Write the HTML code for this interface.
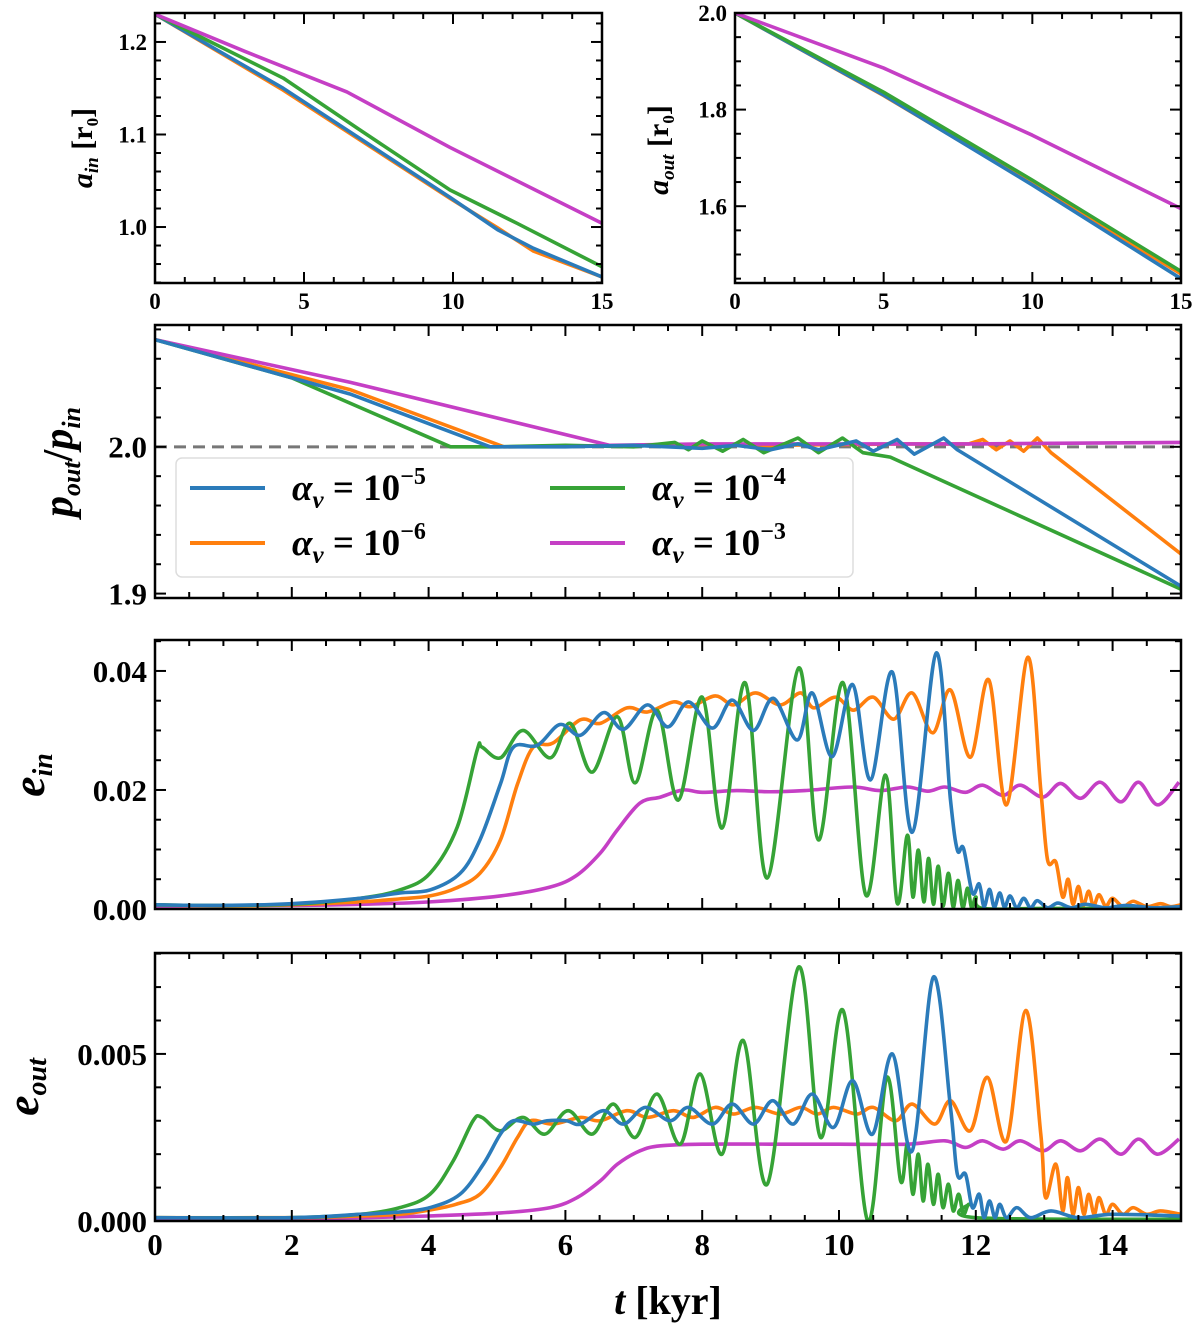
<!DOCTYPE html>
<html><head><meta charset="utf-8">
<style>
html,body{margin:0;padding:0;background:#fff;}
svg{display:block;}
text{font-family:"Liberation Serif",serif;font-weight:bold;fill:#000;}
</style></head>
<body>
<svg id="chart" width="1200" height="1330" viewBox="0 0 1200 1330" xmlns="http://www.w3.org/2000/svg"></svg>
<script>
// ---- data (time in kyr, value) ----
const colors = {blue:"#2b7bba", orange:"#ff7f0e", green:"#36a336", magenta:"#c53fc5"};
const legendLabels = ["10","10","10","10"];
const legendExps = ["-5","-6","-4","-3"];

const ainMagenta=[0,1.23, 3,1.19, 6.44,1.146, 9.9,1.086, 15,1.004];
const ainGreen=[0,1.23, 4.3,1.161, 6.78,1.107, 9.9,1.04, 12.15,1.004, 15,0.957];
const ainBlue=[0,1.23, 4.3,1.15, 9.9,1.032, 11.5,0.997, 12.7,0.977, 15,0.946];
const ainOrange=[0,1.23, 4.3,1.148, 9.9,1.031, 11.5,0.999, 12.7,0.974, 15,0.946];

const aoutMagenta=[0,2.0, 5,1.886, 10,1.747, 15,1.595];
const aoutGreen=[0,2.0, 5,1.836, 10,1.654, 15,1.465];
const aoutBlue=[0,2.0, 5,1.83, 10,1.644, 15,1.45];
const aoutOrange=[0,2.0, 5,1.829, 10,1.646, 15,1.46];

const pGreen=[0,2.073, 2,2.047, 4.32,2.0, 5,2.0, 6,2.001, 7,2.0, 7.6,2.003, 7.8,1.998, 8.0,2.004, 8.3,1.997, 8.6,2.005, 8.9,1.996, 9.4,2.006, 9.7,1.996, 10.05,2.006, 10.35,1.996, 10.75,1.993, 15,1.903];
const pBlue=[0,2.073, 2.85,2.036, 4.9,2.0, 6,2.0, 7,2.001, 8,1.999, 8.5,2.001, 9,1.998, 9.4,2.002, 9.7,1.998, 10.25,2.004, 10.5,1.997, 10.85,2.005, 11.1,1.995, 11.53,2.006, 11.73,1.998, 15,1.905];
const pOrange=[0,2.073, 2.85,2.039, 5.1,2.0, 7,2.001, 9,2.001, 11,2.002, 11.9,2.002, 12.1,2.005, 12.3,1.998, 12.5,2.004, 12.7,1.997, 12.9,2.006, 13.1,1.996, 15,1.927];
const pMagenta=[0,2.073, 2.85,2.044, 6.65,2.001, 8,2.002, 10,2.002, 12,2.002, 15,2.003];

const einGreen=[0,0.0007, 1,0.0006, 2,0.0008, 3,0.0018, 3.58,0.0032, 4.02,0.006, 4.42,0.0138, 4.71,0.0267, 4.78,0.0272, 5.05,0.0254, 5.38,0.030, 5.78,0.0254, 6.07,0.0312, 6.39,0.023, 6.76,0.0323, 7.02,0.0212, 7.34,0.0334, 7.65,0.0183, 8.0,0.0356, 8.29,0.0136, 8.63,0.038, 8.95,0.0052, 9.41,0.0405, 9.70,0.0116, 10.06,0.038, 10.39,0.0024, 10.68,0.0225, 10.85,0.001, 11.0,0.0124, 11.08,0.002, 11.16,0.0099, 11.24,0.0012, 11.31,0.0085, 11.38,0.0008, 11.45,0.0072, 11.52,0.0005, 11.6,0.006, 11.67,0.0003, 11.74,0.0048, 11.81,0.0002, 11.88,0.0035, 11.94,0.0001, 12.0,0.002, 12.1,0.0001, 13,0.0001, 15,0.0001];
const einBlue=[0,0.0007, 1,0.0006, 2,0.0009, 3,0.0018, 3.58,0.0027, 4.02,0.0032, 4.46,0.006, 4.75,0.0116, 5.05,0.021, 5.24,0.0272, 5.59,0.0275, 5.92,0.031, 6.22,0.0292, 6.56,0.033, 6.85,0.0302, 7.2,0.0343, 7.5,0.0306, 7.8,0.0348, 8.15,0.0304, 8.44,0.0351, 8.75,0.030, 9.04,0.0354, 9.39,0.0284, 9.61,0.0363, 9.90,0.0256, 10.2,0.0377, 10.46,0.0217, 10.78,0.0398, 11.07,0.0129, 11.42,0.043, 11.63,0.0183, 11.73,0.0099, 11.82,0.0102, 11.95,0.0027, 12.05,0.0042, 12.12,0.0004, 12.2,0.0033, 12.27,0.0003, 12.35,0.0027, 12.42,0.0003, 12.5,0.0022, 12.6,0.0002, 12.7,0.0018, 12.8,0.0002, 12.9,0.0014, 13.05,0.0002, 13.2,0.001, 13.4,0.0002, 13.6,0.0008, 13.9,0.0002, 14.2,0.0006, 14.6,0.0002, 15,0.0004];
const einOrange=[0,0.0007, 1,0.0005, 2,0.0007, 3,0.0012, 3.58,0.0017, 4.02,0.0022, 4.4,0.0035, 4.75,0.006, 5.05,0.0116, 5.3,0.021, 5.53,0.0272, 5.82,0.0279, 6.22,0.0318, 6.51,0.0312, 6.9,0.0338, 7.2,0.0331, 7.58,0.0348, 7.83,0.034, 8.19,0.0358, 8.46,0.0343, 8.78,0.0363, 9.14,0.0343, 9.44,0.0363, 9.63,0.0338, 9.95,0.0356, 10.21,0.0334, 10.5,0.0356, 10.8,0.0319, 11.07,0.0363, 11.37,0.0296, 11.63,0.0368, 11.92,0.0255, 12.19,0.0385, 12.45,0.0175, 12.76,0.0423, 12.95,0.02, 13.05,0.0082, 13.17,0.0079, 13.27,0.002, 13.35,0.005, 13.42,0.0008, 13.5,0.0038, 13.57,0.0006, 13.65,0.003, 13.72,0.0005, 13.8,0.0024, 13.9,0.0005, 14,0.0018, 14.15,0.0004, 14.3,0.0013, 14.5,0.0004, 14.7,0.0009, 14.85,0.0004, 15,0.0007];
const einMagenta=[0,0.0005, 2,0.0006, 3,0.0008, 4.02,0.0012, 5.05,0.0022, 5.78,0.0037, 6.17,0.0057, 6.51,0.0094, 6.76,0.0133, 7.09,0.0178, 7.39,0.0188, 7.72,0.02, 8.0,0.0196, 8.5,0.0199, 9,0.0197, 9.5,0.0199, 10.2,0.0205, 10.6,0.0199, 11.0,0.0205, 11.3,0.0198, 11.55,0.0205, 11.85,0.0196, 12.1,0.0208, 12.4,0.0191, 12.65,0.0208, 12.98,0.0188, 13.24,0.0211, 13.53,0.0186, 13.82,0.0213, 14.12,0.018, 14.38,0.0213, 14.66,0.0175, 14.97,0.0213];

const eoutGreen=[0,0.0001, 2,0.0001, 3,0.0002, 3.58,0.0004, 4.02,0.0008, 4.36,0.0018, 4.65,0.003, 4.78,0.0031, 5.05,0.0027, 5.38,0.0031, 5.7,0.0026, 6.04,0.0033, 6.39,0.0026, 6.7,0.0035, 7.02,0.0025, 7.34,0.0038, 7.68,0.0023, 7.97,0.0044, 8.29,0.002, 8.6,0.0054, 8.95,0.0011, 9.41,0.0076, 9.73,0.0025, 10.06,0.0063, 10.42,0.0, 10.7,0.0043, 10.9,0.0012, 11.0,0.0023, 11.08,0.0008, 11.16,0.002, 11.23,0.0006, 11.3,0.0017, 11.38,0.0005, 11.45,0.0014, 11.52,0.0004, 11.6,0.0011, 11.67,0.0003, 11.75,0.0008, 11.82,0.0002, 11.9,0.0005, 12.0,0.0001, 15,0.00005];
const eoutBlue=[0,0.0001, 2,0.0001, 3,0.0002, 3.58,0.00027, 4.02,0.0004, 4.46,0.0008, 4.8,0.0017, 5.05,0.0026, 5.24,0.003, 5.53,0.0029, 5.73,0.003, 6.01,0.003, 6.22,0.0029, 6.56,0.0033, 6.85,0.0029, 7.17,0.0034, 7.53,0.003, 7.8,0.0034, 8.15,0.0029, 8.44,0.0035, 8.75,0.0029, 9.03,0.0036, 9.33,0.0029, 9.61,0.0038, 9.92,0.0028, 10.2,0.0042, 10.49,0.0026, 10.78,0.005, 11.07,0.0021, 11.38,0.0073, 11.63,0.0034, 11.73,0.0014, 11.85,0.0014, 11.95,0.0004, 12.05,0.0008, 12.12,0.0001, 12.2,0.0006, 12.28,0.0001, 12.35,0.0005, 12.45,0.0001, 12.6,0.0004, 12.8,0.0001, 13.1,0.0003, 13.5,0.0001, 14,0.0002, 15,0.00015];
const eoutOrange=[0,0.0001, 2,0.0001, 3,0.00015, 3.58,0.0002, 4.02,0.00033, 4.4,0.0005, 4.75,0.0008, 5.05,0.0016, 5.3,0.0025, 5.49,0.003, 5.82,0.0029, 6.22,0.0031, 6.51,0.003, 6.9,0.0033, 7.2,0.0031, 7.58,0.0033, 7.87,0.0031, 8.19,0.0034, 8.46,0.0032, 8.78,0.0034, 9.14,0.0032, 9.44,0.0034, 9.68,0.0032, 9.92,0.0034, 10.26,0.0032, 10.5,0.0034, 10.83,0.003, 11.07,0.0035, 11.4,0.0029, 11.63,0.0036, 11.92,0.0027, 12.17,0.0043, 12.45,0.0024, 12.73,0.0063, 12.95,0.0026, 13.02,0.0007, 13.17,0.0017, 13.27,0.0003, 13.34,0.0013, 13.42,0.0002, 13.5,0.001, 13.58,0.0002, 13.65,0.0008, 13.73,0.0002, 13.8,0.0007, 13.9,0.0002, 14,0.0005, 14.15,0.0002, 14.3,0.0004, 14.5,0.0002, 14.7,0.0003, 15,0.0002];
const eoutMagenta=[0,0.00003, 2,0.00005, 3,0.0001, 4,0.00015, 5.05,0.00024, 5.78,0.0004, 6.17,0.0007, 6.51,0.0012, 6.76,0.0017, 7.09,0.0021, 7.39,0.00225, 8,0.0023, 9,0.0023, 10,0.0023, 11,0.0023, 11.55,0.0024, 11.85,0.0022, 12.1,0.0024, 12.4,0.00215, 12.65,0.0024, 12.98,0.0021, 13.24,0.0024, 13.53,0.0021, 13.82,0.00245, 14.12,0.002, 14.38,0.00245, 14.66,0.002, 14.97,0.00245];

const ainTicks=["1.0","1.1","1.2"], ainTickVals=[1.0,1.1,1.2];
const aoutTicks=["1.6","1.8","2.0"], aoutTickVals=[1.6,1.8,2.0];
const pTicks=["1.9","2.0"], pTickVals=[1.9,2.0];
const einTicks=["0.00","0.02","0.04"], einTickVals=[0,0.02,0.04];
const eoutTicks=["0.000","0.005"], eoutTickVals=[0,0.005];
const topXTicks=["0","5","10","15"], topXTickVals=[0,5,10,15];
const botXTicks=["0","2","4","6","8","10","12","14"], botXTickVals=[0,2,4,6,8,10,12,14];

// ---- drawing ----
const NS="http://www.w3.org/2000/svg";
const svg=document.getElementById('chart');
function mk(tag,attrs,parent){const e=document.createElementNS(NS,tag);for(const k in attrs)e.setAttribute(k,attrs[k]);(parent||svg).appendChild(e);return e;}

function makePanel(id,px0,px1,py0,py1,xmin,xmax,ymin,ymax){
  const g=mk('g',{});
  
  
  const sx=t=>px0+(t-xmin)/(xmax-xmin)*(px1-px0);
  const sy=v=>py1-(v-ymin)/(ymax-ymin)*(py1-py0);
  const cp=mk('clipPath',{id:'clip-'+id},g);
  mk('rect',{x:px0,y:py0,width:px1-px0,height:py1-py0},cp);
  return {g,sx,sy,px0,px1,py0,py1,xmin,xmax,ymin,ymax,id};
}
function ticks(P,xMajor,xMinorStep,yMajor,yMinorStep,showXLabels,xLabels,yLabels,fs){
  const g=P.g;
  const tk=mk('g',{stroke:'#000','stroke-width':2},g);
  
  
  for(let t=P.xmin;t<=P.xmax+1e-9;t+=xMinorStep){
    const major=xMajor.some(m=>Math.abs(m-t)<1e-6);const L=major?11:6;const x=P.sx(t);
    mk('line',{x1:x,y1:P.py1,x2:x,y2:P.py1-L},tk);mk('line',{x1:x,y1:P.py0,x2:x,y2:P.py0+L},tk);
  }
  const y0=Math.ceil(P.ymin/yMinorStep-1e-6);
  for(let k=y0;k*yMinorStep<=P.ymax+1e-9;k++){
    const v=k*yMinorStep;const major=yMajor.some(m=>Math.abs(m-v)<1e-7);const L=major?11:6;const y=P.sy(v);
    mk('line',{x1:P.px0,y1:y,x2:P.px0+L,y2:y},tk);mk('line',{x1:P.px1,y1:y,x2:P.px1-L,y2:y},tk);
  }
  yMajor.forEach((v,i)=>{const t=mk('text',{x:P.px0-8,y:P.sy(v)+fs*0.35,'text-anchor':'end','font-size':fs},g);t.textContent=yLabels[i];
    
    });
  if(showXLabels){xMajor.forEach((v,i)=>{const t=mk('text',{x:P.sx(v),y:P.py1+fs+3,'text-anchor':'middle','font-size':fs},g);t.textContent=xLabels[i];
    
    });}
}
function frame(P){const r=mk('rect',{x:P.px0,y:P.py0,width:P.px1-P.px0,height:P.py1-P.py0,fill:'none',stroke:'#000','stroke-width':2.5},P.g);
  
  }
function series(P,arr,color,name,smooth){
  const pts=[];for(let i=0;i<arr.length;i+=2)pts.push([P.sx(arr[i]),P.sy(arr[i+1])]);
  let d='M'+pts[0][0].toFixed(2)+','+pts[0][1].toFixed(2);
  for(let i=0;i<pts.length-1;i++){
    if(!smooth){d+='L'+pts[i+1][0].toFixed(2)+','+pts[i+1][1].toFixed(2);continue;}
    const p0=pts[Math.max(0,i-1)],p1=pts[i],p2=pts[i+1],p3=pts[Math.min(pts.length-1,i+2)];
    const c1=[p1[0]+(p2[0]-p0[0])/6,p1[1]+(p2[1]-p0[1])/6];
    const c2=[p2[0]-(p3[0]-p1[0])/6,p2[1]-(p3[1]-p1[1])/6];
    d+='C'+c1[0].toFixed(2)+','+c1[1].toFixed(2)+' '+c2[0].toFixed(2)+','+c2[1].toFixed(2)+' '+p2[0].toFixed(2)+','+p2[1].toFixed(2);
  }
  const p=mk('path',{d:d,fill:'none',stroke:color,'stroke-width':3.6,'stroke-linejoin':'round','clip-path':'url(#clip-'+P.id+')'},P.g);
  
  
}

// Panel a_in
const A=makePanel('a-in',155,602,13,283,0,15,0.9395,1.2313);
series(A,ainOrange,colors.orange,'a-in-line-1e-6',false);
series(A,ainBlue,colors.blue,'a-in-line-1e-5',false);
series(A,ainGreen,colors.green,'a-in-line-1e-4',false);
series(A,ainMagenta,colors.magenta,'a-in-line-1e-3',false);
ticks(A,topXTickVals,1,ainTickVals,0.02,true,topXTicks,ainTicks,23);frame(A);

// Panel a_out
const B=makePanel('a-out',735,1181,13,283,0,15,1.441,2.0);
series(B,aoutOrange,colors.orange,'a-out-line-1e-6',false);
series(B,aoutBlue,colors.blue,'a-out-line-1e-5',false);
series(B,aoutGreen,colors.green,'a-out-line-1e-4',false);
series(B,aoutMagenta,colors.magenta,'a-out-line-1e-3',false);
ticks(B,topXTickVals,1,aoutTickVals,0.05,true,topXTicks,aoutTicks,23);frame(B);

// Panel period ratio
const C=makePanel('period-ratio',155,1181,325,598,0,15,1.897,2.083);
const ref=mk('line',{x1:155,x2:1181,y1:C.sy(2.0),y2:C.sy(2.0),stroke:'#777','stroke-width':3,'stroke-dasharray':'12,7'},C.g);


series(C,pOrange,colors.orange,'p-ratio-line-1e-6',false);
series(C,pMagenta,colors.magenta,'p-ratio-line-1e-3',false);
series(C,pGreen,colors.green,'p-ratio-line-1e-4',false);
series(C,pBlue,colors.blue,'p-ratio-line-1e-5',false);
ticks(C,botXTickVals,0.5,pTickVals,0.02,false,[],pTicks,31);frame(C);

// Panel e_in
const D=makePanel('e-in',155,1181,640,909,0,15,0,0.0452);
series(D,einMagenta,colors.magenta,'e-in-line-1e-3',true);
series(D,einOrange,colors.orange,'e-in-line-1e-6',true);
series(D,einGreen,colors.green,'e-in-line-1e-4',true);
series(D,einBlue,colors.blue,'e-in-line-1e-5',true);
ticks(D,botXTickVals,0.5,einTickVals,0.005,false,[],einTicks,31);frame(D);

// Panel e_out
const E=makePanel('e-out',155,1181,953,1221,0,15,0,0.00802);
series(E,eoutMagenta,colors.magenta,'e-out-line-1e-3',true);
series(E,eoutOrange,colors.orange,'e-out-line-1e-6',true);
series(E,eoutGreen,colors.green,'e-out-line-1e-4',true);
series(E,eoutBlue,colors.blue,'e-out-line-1e-5',true);
ticks(E,botXTickVals,0.5,eoutTickVals,0.001,true,botXTicks,eoutTicks,31);frame(E);

// Legend
const lg=mk('g',{});


mk('rect',{x:176,y:458,width:677,height:119,rx:6,fill:'#fff','fill-opacity':0.9,stroke:'#ddd','stroke-width':1.5},lg);
const legColors=[colors.blue,colors.orange,colors.green,colors.magenta];
const legPos=[[190,488],[190,543],[550,488],[550,543]];
legPos.forEach((p,i)=>{
  const en=mk('g',{},lg);
  
  
  mk('line',{x1:p[0],x2:p[0]+75,y1:p[1],y2:p[1],stroke:legColors[i],'stroke-width':4},en);
  const t=mk('text',{x:p[0]+102,y:p[1]+12,'font-size':37},en);
  t.innerHTML='<tspan font-style="italic">α</tspan><tspan font-style="italic" font-size="25" dy="8">ν</tspan><tspan dy="-8"> = '+legendLabels[i]+'</tspan><tspan font-size="24" dy="-16">'+legendExps[i].replace('-','−')+'</tspan>';
});

// Axis titles
function title(html,x,y,fs,rot,name){
  const t=mk('text',{x:x,y:y,'font-size':fs,'text-anchor':'middle',transform:rot?'rotate(-90 '+x+' '+y+')':''});
  t.innerHTML=html;
  
  
}
title('<tspan font-style="italic">a</tspan><tspan font-style="italic" font-size="19" dy="6">in</tspan><tspan dy="-6"> [r</tspan><tspan font-size="17" dy="6">0</tspan><tspan dy="-6">]</tspan>',92,148,30,true,'a-in-y-axis-title');
title('<tspan font-style="italic">a</tspan><tspan font-style="italic" font-size="19" dy="6">out</tspan><tspan dy="-6"> [r</tspan><tspan font-size="17" dy="6">0</tspan><tspan dy="-6">]</tspan>',668,150,30,true,'a-out-y-axis-title');
title('<tspan font-style="italic">p</tspan><tspan font-style="italic" font-size="26" dy="8">out</tspan><tspan dy="-8">/</tspan><tspan font-style="italic">p</tspan><tspan font-style="italic" font-size="26" dy="8">in</tspan>',72,462,42,true,'period-ratio-y-axis-title');
title('<tspan font-style="italic">e</tspan><tspan font-style="italic" font-size="28" dy="8">in</tspan>',44,775,46,true,'e-in-y-axis-title');
title('<tspan font-style="italic">e</tspan><tspan font-style="italic" font-size="28" dy="8">out</tspan>',38,1087,46,true,'e-out-y-axis-title');
title('<tspan font-style="italic">t</tspan> [kyr]',668,1314,40,false,'x-axis-title');
</script>
</body></html>
